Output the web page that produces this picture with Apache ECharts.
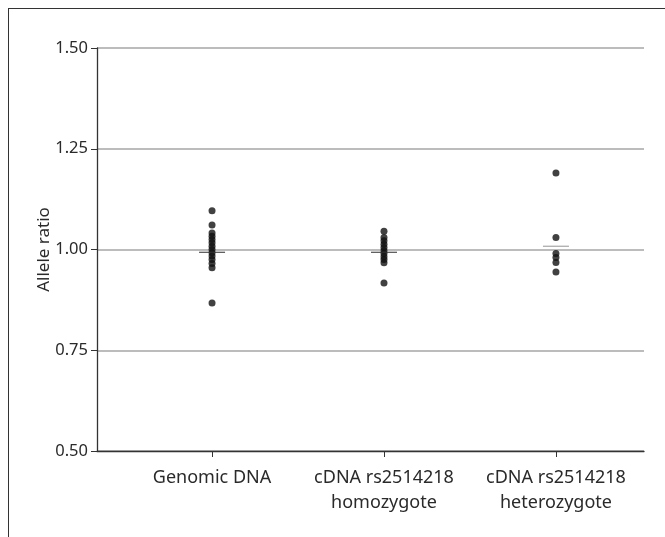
<!DOCTYPE html>
<html>
<head>
<meta charset="utf-8">
<script src="https://cdn.jsdelivr.net/npm/echarts@6/dist/echarts.min.js"></script>
<style>
  html, body { margin: 0; padding: 0; background: #fff; }
  #frame {
    position: absolute; left: 8px; top: 8px; width: 700px; height: 600px;
    border-top: 1.5px solid #333; border-left: 1.5px solid #333;
  }
  #chart { position: absolute; left: 0; top: 0; width: 665px; height: 537px; }
</style>
</head>
<body>
<div id="frame"></div>
<div id="chart"></div>
<script>
var categories = ["Genomic DNA", "cDNA rs2514218\nhomozygote", "cDNA rs2514218\nheterozygote"];
var genomicDNA = [1.096, 1.061, 1.041, 1.033, 1.025, 1.017, 1.008, 1.0, 0.992, 0.984, 0.975, 0.965, 0.955, 0.867];
var homozygote = [1.045, 1.03, 1.022, 1.013, 1.005, 0.997, 0.99, 0.982, 0.975, 0.967, 0.917];
var heterozygote = [1.19, 1.03, 0.99, 0.98, 0.968, 0.944];
var means = [0.993, 0.993, 1.008];

var font = "'Noto Sans', 'Open Sans', sans-serif";

function toPoints(arr, x) {
  return arr.map(function (v) { return [x, v]; });
}

var chart = echarts.init(document.getElementById("chart"));
var option = {
  animation: false,
  grid: { left: 97, right: 21, top: 48, bottom: 86, containLabel: false },
  xAxis: {
    type: "value",
    min: 0.331,
    max: 3.512,
    splitLine: { show: false },
    axisLine: { show: true, lineStyle: { color: "#333", width: 1.3 } },
    axisTick: { show: true, customValues: [1, 2, 3], length: 6, lineStyle: { color: "#333", width: 1 } },
    axisLabel: {
      customValues: [1, 2, 3],
      formatter: function (v) { return categories[Math.round(v) - 1]; },
      color: "#2a2a2a",
      fontFamily: font,
      fontSize: 18,
      lineHeight: 25,
      margin: 14
    }
  },
  yAxis: {
    type: "value",
    min: 0.5,
    max: 1.5,
    interval: 0.25,
    name: "Allele ratio",
    nameLocation: "middle",
    nameGap: 44,
    nameMoveOverlap: false,
    nameTextStyle: { color: "#2a2a2a", fontFamily: font, fontSize: 17 },
    axisLine: { show: true, lineStyle: { color: "#333", width: 1.3 } },
    axisTick: { show: true, length: 6, lineStyle: { color: "#333", width: 1 } },
    axisLabel: {
      color: "#2a2a2a",
      fontFamily: font,
      fontSize: 16.5,
      margin: 9,
      formatter: function (v) { return v.toFixed(2); }
    },
    splitLine: { show: true, lineStyle: { color: "#a6a6a6", width: 1.5 } }
  },
  series: [
    { type: "scatter", data: toPoints(genomicDNA, 1), symbolSize: 7, itemStyle: { color: "#111" } },
    { type: "scatter", data: toPoints(homozygote, 2), symbolSize: 7, itemStyle: { color: "#111" } },
    { type: "scatter", data: toPoints(heterozygote, 3), symbolSize: 7, itemStyle: { color: "#111" } },
    {
      type: "scatter",
      symbol: "rect",
      symbolSize: [26, 1.3],
      z: 3,
      data: [
        { value: [1, means[0]], itemStyle: { color: "#333" } },
        { value: [2, means[1]], itemStyle: { color: "#333" } },
        { value: [3, means[2]], itemStyle: { color: "#999" } }
      ]
    }
  ]
};
chart.setOption(option);
</script>
</body>
</html>
